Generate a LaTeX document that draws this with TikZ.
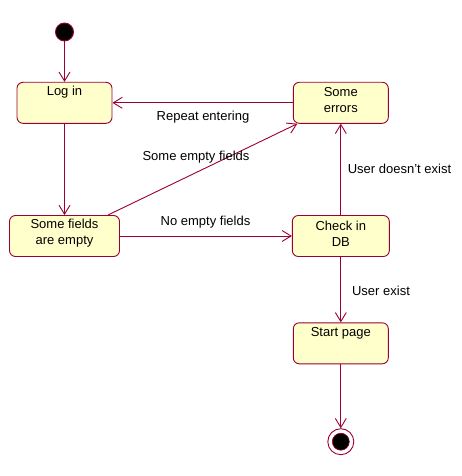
\documentclass[tikz,border=0pt]{standalone}
\usepackage{fontspec}
\setmainfont{Liberation Sans}
\usetikzlibrary{arrows.meta}
\definecolor{umlline}{RGB}{153,0,51}
\definecolor{umlfill}{RGB}{255,255,204}
\tikzset{
  statebox/.style={draw=umlline, fill=umlfill, rounded corners=6pt, line width=0.9pt,
    minimum width=95pt, minimum height=41pt, inner sep=0pt},
  toptext/.style={label={[anchor=center,yshift=-10.5pt,inner sep=0pt,font=\fontsize{13}{16}\selectfont]north:#1}},
  midtext/.style={label={[anchor=center,yshift=2.5pt,inner sep=0pt,align=center,font=\fontsize{13}{16}\selectfont]center:#1}},
  flow/.style={draw=umlline, line width=0.9pt, -{Straight Barb[length=9pt,width=11pt,line width=0.9pt]}},
  lbl/.style={font=\fontsize{13}{16}\selectfont, inner sep=0pt},
}
\begin{document}
\begin{tikzpicture}[x=1pt,y=-1pt]
\useasboundingbox (0,0) rectangle (461,476);
\node[circle, draw=umlline, fill=black, line width=0.9pt, minimum size=18pt, inner sep=0pt] (init) at (64.5,32) {};
\node[statebox, toptext={Log in}] (login) at (64.5,102.8) {};
\node[statebox, minimum width=110pt, midtext={Some fields\\are empty}] (fields) at (64.5,236) {};
\node[statebox, midtext={Some\\errors}] (errors) at (340.8,102.8) {};
\node[statebox, minimum width=97pt, midtext={Check in\\DB}] (checkdb) at (340.8,236) {};
\node[statebox, toptext={Start page}] (start) at (340.8,343.3) {};
\node[circle, draw=umlline, fill=white, line width=0.9pt, minimum size=26pt, inner sep=0pt] (final) at (340.8,441.7) {};
\node[circle, draw=umlline, fill=black, line width=0.6pt, minimum size=17pt, inner sep=0pt] (finaldot) at (final.center) {};

\draw[flow] (init) -- (login);
\draw[flow] (login) -- (fields);
\draw[flow] (errors) -- (login);
\draw[flow] (fields) -- (errors);
\draw[flow] (fields) -- (checkdb);
\draw[flow] (checkdb) -- (errors);
\draw[flow] (checkdb) -- (start);
\draw[flow] (start) -- (final);

\node[lbl] (l1) at (203,117) {Repeat entering};
\node[lbl] (l2) at (196,157) {Some empty fields};
\node[lbl] (l3) at (205.5,222.5) {No empty fields};
\node[lbl] (l4) at (399.5,169) {User doesn't exist};
\node[lbl] (l5) at (381,290.5) {User exist};
\end{tikzpicture}
\end{document}
